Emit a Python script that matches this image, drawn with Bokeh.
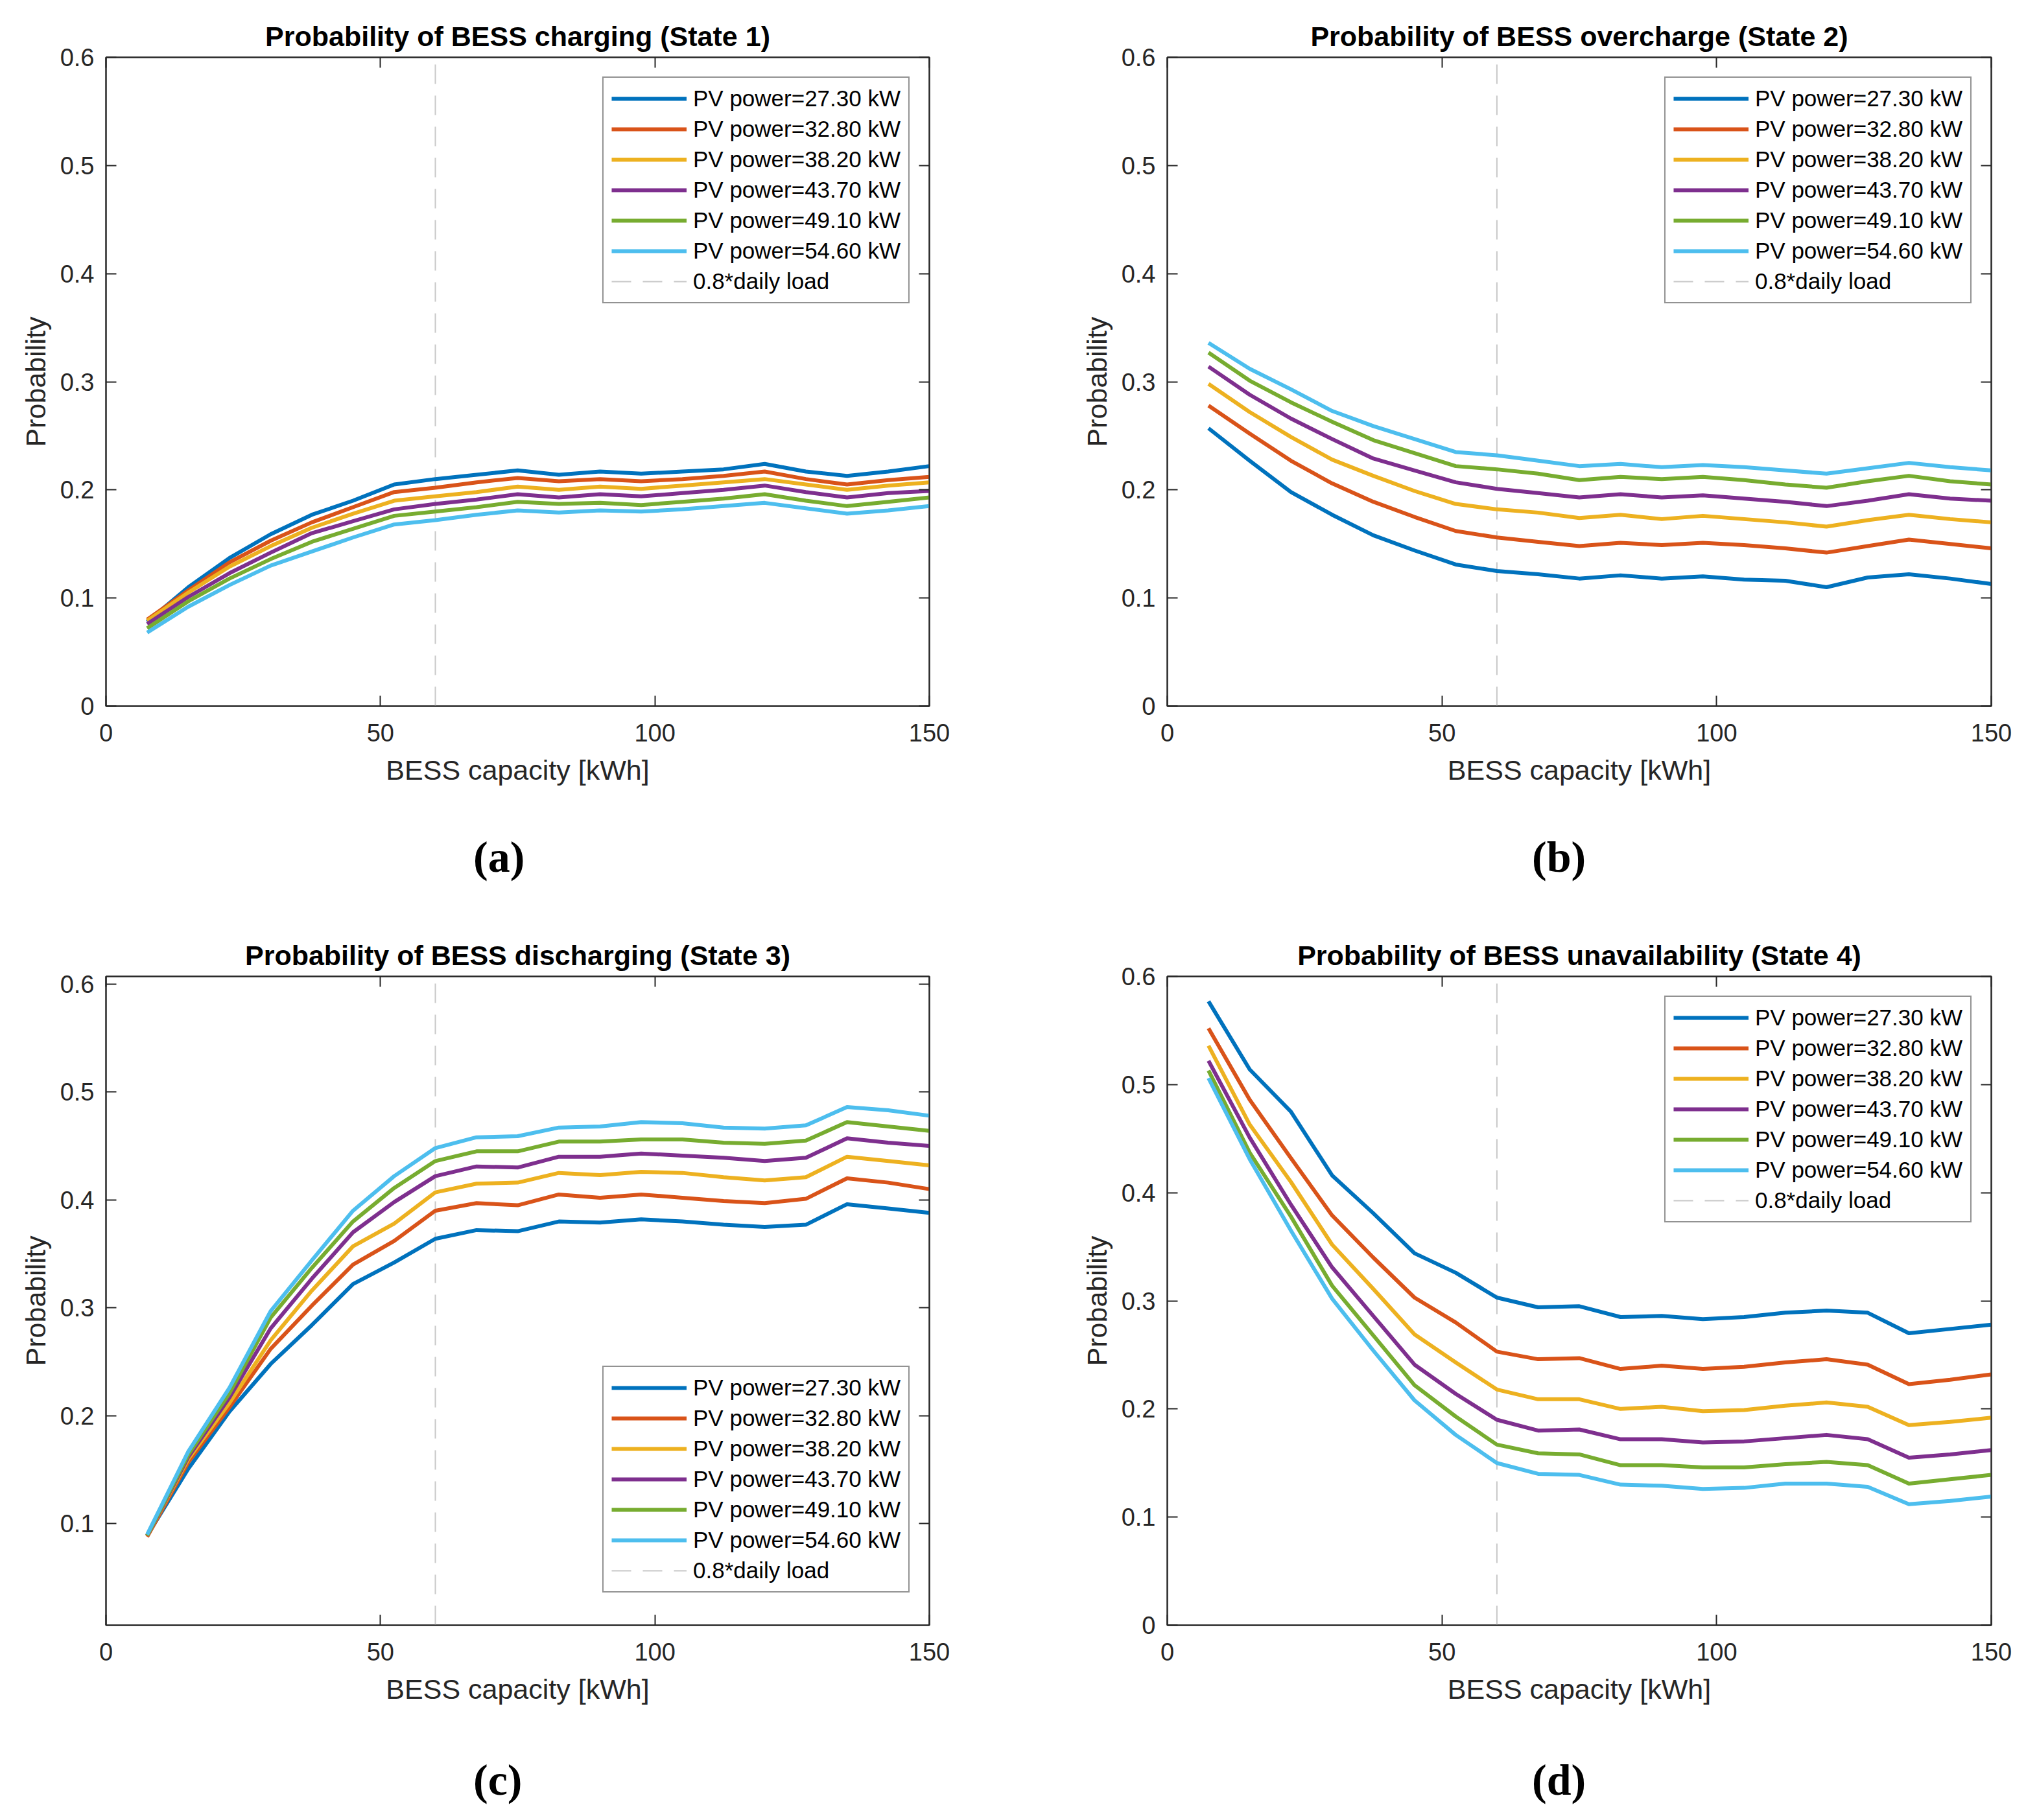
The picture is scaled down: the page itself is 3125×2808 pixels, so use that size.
from bokeh.plotting import figure
from bokeh.models import Range1d, FixedTicker, LinearAxis, Legend, LegendItem, Div
from bokeh.layouts import column, row
from bokeh.embed import file_html
from bokeh.resources import INLINE

# ---------------- data ----------------
capacity = [7.5, 15, 22.5, 30, 37.5, 45, 52.5, 60, 67.5, 75, 82.5, 90, 97.5,
            105, 112.5, 120, 127.5, 135, 142.5, 150]
pv_labels = ["PV power=27.30 kW", "PV power=32.80 kW", "PV power=38.20 kW",
             "PV power=43.70 kW", "PV power=49.10 kW", "PV power=54.60 kW"]
threshold_label = "0.8*daily load"
daily_load_08 = 60
x_ticks = [0, 50, 100, 150]
y_ticks_full = [0, 0.1, 0.2, 0.3, 0.4, 0.5, 0.6]
y_ticks_c = [0.1, 0.2, 0.3, 0.4, 0.5, 0.6]
titles = ["Probability of BESS charging (State 1)",
          "Probability of BESS overcharge (State 2)",
          "Probability of BESS discharging (State 3)",
          "Probability of BESS unavailability (State 4)"]
tags = ["(a)", "(b)", "(c)", "(d)"]

# State 1: charging
s1_273 = [0.078, 0.110, 0.137, 0.159, 0.177, 0.190, 0.205, 0.210, 0.214, 0.218, 0.214, 0.217, 0.215, 0.217, 0.219, 0.224, 0.217, 0.213, 0.217, 0.222]
s1_328 = [0.080, 0.107, 0.133, 0.153, 0.170, 0.184, 0.198, 0.202, 0.207, 0.211, 0.208, 0.210, 0.208, 0.210, 0.213, 0.217, 0.210, 0.205, 0.209, 0.212]
s1_382 = [0.079, 0.105, 0.129, 0.148, 0.165, 0.178, 0.190, 0.194, 0.198, 0.203, 0.200, 0.203, 0.201, 0.204, 0.207, 0.210, 0.205, 0.200, 0.204, 0.207]
s1_437 = [0.076, 0.101, 0.123, 0.142, 0.160, 0.171, 0.182, 0.187, 0.191, 0.196, 0.193, 0.196, 0.194, 0.197, 0.200, 0.204, 0.198, 0.193, 0.197, 0.199]
s1_491 = [0.072, 0.097, 0.118, 0.136, 0.152, 0.164, 0.176, 0.180, 0.184, 0.189, 0.187, 0.188, 0.186, 0.189, 0.192, 0.196, 0.190, 0.185, 0.189, 0.193]
s1_546 = [0.068, 0.092, 0.112, 0.130, 0.143, 0.156, 0.168, 0.172, 0.177, 0.181, 0.179, 0.181, 0.180, 0.182, 0.185, 0.188, 0.183, 0.178, 0.181, 0.185]

# State 2: overcharge
s2_273 = [0.257, 0.227, 0.198, 0.177, 0.158, 0.144, 0.131, 0.125, 0.122, 0.118, 0.121, 0.118, 0.120, 0.117, 0.116, 0.110, 0.119, 0.122, 0.118, 0.113]
s2_328 = [0.278, 0.252, 0.227, 0.206, 0.189, 0.175, 0.162, 0.156, 0.152, 0.148, 0.151, 0.149, 0.151, 0.149, 0.146, 0.142, 0.148, 0.154, 0.150, 0.146]
s2_382 = [0.298, 0.272, 0.249, 0.228, 0.213, 0.199, 0.187, 0.182, 0.179, 0.174, 0.177, 0.173, 0.176, 0.173, 0.170, 0.166, 0.172, 0.177, 0.173, 0.170]
s2_437 = [0.314, 0.288, 0.266, 0.247, 0.229, 0.218, 0.207, 0.201, 0.197, 0.193, 0.196, 0.193, 0.195, 0.192, 0.189, 0.185, 0.190, 0.196, 0.192, 0.190]
s2_491 = [0.327, 0.301, 0.281, 0.263, 0.246, 0.234, 0.222, 0.219, 0.215, 0.209, 0.212, 0.210, 0.212, 0.209, 0.205, 0.202, 0.208, 0.213, 0.208, 0.205]
s2_546 = [0.336, 0.312, 0.293, 0.273, 0.259, 0.247, 0.235, 0.232, 0.227, 0.222, 0.224, 0.221, 0.223, 0.221, 0.218, 0.215, 0.220, 0.225, 0.221, 0.218]

# State 3: discharging
s3_273 = [0.089, 0.151, 0.204, 0.248, 0.284, 0.322, 0.342, 0.364, 0.372, 0.371, 0.380, 0.379, 0.382, 0.380, 0.377, 0.375, 0.377, 0.396, 0.392, 0.388]
s3_328 = [0.088, 0.157, 0.208, 0.262, 0.302, 0.340, 0.362, 0.390, 0.397, 0.395, 0.405, 0.402, 0.405, 0.402, 0.399, 0.397, 0.401, 0.420, 0.416, 0.410]
s3_382 = [0.089, 0.160, 0.212, 0.270, 0.316, 0.357, 0.378, 0.407, 0.415, 0.416, 0.425, 0.423, 0.426, 0.425, 0.421, 0.418, 0.421, 0.440, 0.436, 0.432]
s3_437 = [0.089, 0.162, 0.217, 0.281, 0.327, 0.370, 0.398, 0.422, 0.431, 0.430, 0.440, 0.440, 0.443, 0.441, 0.439, 0.436, 0.439, 0.457, 0.453, 0.450]
s3_491 = [0.089, 0.164, 0.221, 0.291, 0.337, 0.380, 0.411, 0.436, 0.445, 0.445, 0.454, 0.454, 0.456, 0.456, 0.453, 0.452, 0.455, 0.472, 0.468, 0.464]
s3_546 = [0.090, 0.167, 0.226, 0.297, 0.344, 0.390, 0.422, 0.448, 0.458, 0.459, 0.467, 0.468, 0.472, 0.471, 0.467, 0.466, 0.469, 0.486, 0.483, 0.478]

# State 4: unavailability
s4_273 = [0.577, 0.514, 0.475, 0.416, 0.381, 0.344, 0.326, 0.303, 0.294, 0.295, 0.285, 0.286, 0.283, 0.285, 0.289, 0.291, 0.289, 0.270, 0.274, 0.278]
s4_328 = [0.552, 0.486, 0.432, 0.379, 0.340, 0.303, 0.280, 0.253, 0.246, 0.247, 0.237, 0.240, 0.237, 0.239, 0.243, 0.246, 0.241, 0.223, 0.227, 0.232]
s4_382 = [0.536, 0.463, 0.410, 0.352, 0.311, 0.269, 0.243, 0.218, 0.209, 0.209, 0.200, 0.202, 0.198, 0.199, 0.203, 0.206, 0.202, 0.185, 0.188, 0.192]
s4_437 = [0.522, 0.451, 0.389, 0.331, 0.286, 0.241, 0.214, 0.190, 0.180, 0.181, 0.172, 0.172, 0.169, 0.170, 0.173, 0.176, 0.172, 0.155, 0.158, 0.162]
s4_491 = [0.513, 0.437, 0.378, 0.314, 0.268, 0.222, 0.193, 0.167, 0.159, 0.158, 0.148, 0.148, 0.146, 0.146, 0.149, 0.151, 0.148, 0.131, 0.135, 0.139]
s4_546 = [0.506, 0.431, 0.365, 0.302, 0.254, 0.208, 0.176, 0.150, 0.140, 0.139, 0.130, 0.129, 0.126, 0.127, 0.131, 0.131, 0.128, 0.112, 0.115, 0.119]

colors = ["#0072BD", "#D95319", "#EDB120", "#7E2F8E", "#77AC30", "#4DBEEE"]
AXC = "#262626"
FONT = "Liberation Sans"


def style_axis(ax, ticks, overrides, standoff, label, label_standoff, show_labels=True):
    ax.ticker = FixedTicker(ticks=ticks)
    ax.major_tick_in = 16
    ax.major_tick_out = 0
    ax.minor_tick_line_color = None
    ax.axis_line_color = AXC
    ax.axis_line_width = 2
    ax.major_tick_line_color = AXC
    ax.major_tick_line_width = 2
    if show_labels:
        ax.major_label_overrides = overrides
        ax.major_label_text_font = FONT
        ax.major_label_text_font_size = "38px"
        ax.major_label_text_color = AXC
        ax.major_label_standoff = standoff
        ax.axis_label = label
        ax.axis_label_text_font = FONT
        ax.axis_label_text_font_size = "43px"
        ax.axis_label_text_font_style = "normal"
        ax.axis_label_text_color = AXC
        ax.axis_label_standoff = label_standoff
    else:
        ax.major_label_text_color = None
        ax.major_label_text_font_size = "1px"
        ax.major_label_standoff = 0


def make_panel(idx, series, y0, y1, yticks, width, height, borders, legend_loc):
    left, right, top, bottom = borders
    p = figure(width=width, height=height, output_backend="svg", toolbar_location=None,
               x_range=Range1d(0, 150), y_range=Range1d(y0, y1),
               min_border_left=left, min_border_right=right,
               min_border_top=top, min_border_bottom=bottom)
    p.title.text = titles[idx]
    p.title.align = "center"
    p.title.text_font = FONT
    p.title.text_font_size = "43px"
    p.title.text_font_style = "bold"
    p.title.text_color = "#000000"
    p.title.standoff = 18
    p.xgrid.grid_line_color = None
    p.ygrid.grid_line_color = None
    p.outline_line_color = AXC
    p.outline_line_width = 2
    p.background_fill_color = "white"
    p.border_fill_color = "white"

    dashed = p.segment(x0=[daily_load_08], x1=[daily_load_08], y0=[y0], y1=[y1],
                       line_color="#C8C8C8", line_width=2, line_dash="30 18")
    renderers = []
    for s, c in zip(series, colors):
        r = p.line(capacity, s, line_color=c, line_width=6, line_join="round")
        renderers.append(r)

    items = [LegendItem(label=l, renderers=[r]) for l, r in zip(pv_labels, renderers)]
    items.append(LegendItem(label=threshold_label, renderers=[dashed]))
    leg = Legend(items=items, location=legend_loc)
    leg.label_text_font = FONT
    leg.label_text_font_size = "35px"
    leg.label_text_color = "#000000"
    leg.glyph_width = 116
    leg.glyph_height = 40
    leg.label_height = 40
    leg.label_standoff = 10
    leg.spacing = 7
    leg.padding = 12
    leg.margin = 30
    leg.border_line_color = AXC
    leg.border_line_width = 2
    leg.background_fill_color = "white"
    leg.background_fill_alpha = 1.0
    p.add_layout(leg)

    yover = {t: ("0" if t == 0 else str(t)) for t in yticks}
    xover = {t: str(t) for t in x_ticks}
    style_axis(p.xaxis[0], x_ticks, xover, 27, "BESS capacity [kWh]", 17)
    style_axis(p.yaxis[0], yticks, yover, 18, "Probability", 11)

    xa = LinearAxis()
    style_axis(xa, x_ticks, {}, 0, None, 0, show_labels=False)
    p.add_layout(xa, "above")
    ya = LinearAxis()
    style_axis(ya, yticks, {}, 0, None, 0, show_labels=False)
    p.add_layout(ya, "right")
    return p


def make_tag(idx, width, height, pad_left, pad_top):
    html = ('<div style="padding-left:%dpx; padding-top:%dpx; white-space:nowrap; '
            'font-family:\'Liberation Serif\', serif; font-weight:bold; font-size:68px; '
            'line-height:68px; color:#000;">%s</div>' % (pad_left, pad_top, tags[idx]))
    return Div(text=html, width=width, height=height, margin=0)


pa = make_panel(0, [s1_273, s1_328, s1_382, s1_437, s1_491, s1_546], 0, 0.6, y_ticks_full,
                1552, 1239, (163, 119, 88, 150), "top_right")
pb = make_panel(1, [s2_273, s2_328, s2_382, s2_437, s2_491, s2_546], 0, 0.6, y_ticks_full,
                1557, 1239, (248, 38, 88, 150), "top_right")
pc = make_panel(2, [s3_273, s3_328, s3_382, s3_437, s3_491, s3_546], 0.006, 0.607, y_ticks_c,
                1552, 1237, (163, 119, 86, 150), (766, 50))
pd = make_panel(3, [s4_273, s4_328, s4_382, s4_437, s4_491, s4_546], 0, 0.6, y_ticks_full,
                1557, 1237, (248, 38, 86, 150), "top_right")

ta = make_tag(0, 1552, 181, 730, 49)
tb = make_tag(1, 1557, 181, 811, 49)
tc = make_tag(2, 1552, 135, 730, 55)
td = make_tag(3, 1557, 135, 811, 55)

layout = column(row(pa, pb), row(ta, tb), row(pc, pd), row(tc, td))
open("out.html", "w").write(file_html(layout, INLINE))
